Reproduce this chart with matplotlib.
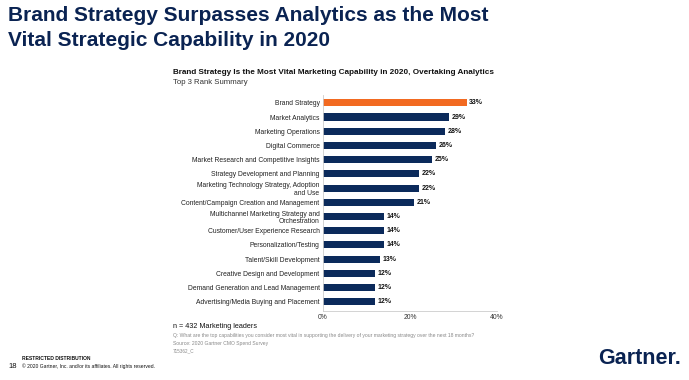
import matplotlib
matplotlib.use('Agg')
import matplotlib.pyplot as plt

# chart data
categories = [
    'Brand Strategy',
    'Market Analytics',
    'Marketing Operations',
    'Digital Commerce',
    'Market Research and Competitive Insights',
    'Strategy Development and Planning',
    'Marketing Technology Strategy, Adoption\nand Use',
    'Content/Campaign Creation and Management',
    'Multichannel Marketing Strategy and\nOrchestration',
    'Customer/User Experience Research',
    'Personalization/Testing',
    'Talent/Skill Development',
    'Creative Design and Development',
    'Demand Generation and Lead Management',
    'Advertising/Media Buying and Placement',
]
values = [33, 29, 28, 26, 25, 22, 22, 21, 14, 14, 14, 13, 12, 12, 12]
x_ticks = [0, 20, 40]
x_tick_labels = ['0%', '20%', '40%']

navy = '#0b2a5b'
orange = '#f26a21'
plt.rcParams['font.family'] = ['Liberation Sans', 'DejaVu Sans']

fig = plt.figure(figsize=(6.89, 3.80), dpi=100)
ax = fig.add_axes([323 / 689, (380 - 311) / 380, 174 / 689, (311 - 95) / 380])

colors = [orange] + [navy] * (len(values) - 1)
ypos = list(range(len(values)))
ax.barh(ypos, values, height=0.5, color=colors)
for y, v in zip(ypos, values):
    ax.text(v + 0.6, y, '%d%%' % v, va='center', ha='left', fontsize=5,
            fontweight='bold', color='#111111')

ax.set_ylim(len(values) - 0.35, -0.55)
ax.set_xlim(0, 40)
ax.set_yticks(ypos)
ax.set_yticklabels(categories, fontsize=4.9, color='#222222', linespacing=1.1)
ax.set_xticks(x_ticks)
ax.set_xticklabels(x_tick_labels, fontsize=4.9, color='#333333')
ax.tick_params(length=0, pad=2.5)
for s in ['top', 'right']:
    ax.spines[s].set_visible(False)
for s in ['left', 'bottom']:
    ax.spines[s].set_color('#cccccc')
    ax.spines[s].set_linewidth(0.6)

# slide title, two lines placed on their baselines
fig.text(8 / 689, 1 - 21 / 380, 'Brand Strategy Surpasses Analytics as the Most',
         fontsize=15, fontweight='bold', color='#0a2352', va='baseline', ha='left')
fig.text(8 / 689, 1 - 46 / 380, 'Vital Strategic Capability in 2020',
         fontsize=15, fontweight='bold', color='#0a2352', va='baseline', ha='left')

# chart title
fig.text(173 / 689, 1 - 73 / 380,
         'Brand Strategy Is the Most Vital Marketing Capability in 2020, Overtaking Analytics',
         fontsize=5.9, fontweight='bold', color='#111111', va='center', ha='left')
fig.text(173 / 689, 1 - 83 / 380, 'Top 3 Rank Summary', fontsize=5.6,
         color='#333333', va='center', ha='left')

# notes
fig.text(173 / 689, 1 - 326 / 380, 'n = 432 Marketing leaders', fontsize=5.2,
         color='#111111', va='center', ha='left')
fig.text(173 / 689, 1 - 336 / 380,
         'Q: What are the top capabilities you consider most vital in supporting the delivery of your marketing strategy over the next 18 months?',
         fontsize=3.6, color='#888888', va='center', ha='left')
fig.text(173 / 689, 1 - 344 / 380, 'Source: 2020 Gartner CMO Spend Survey',
         fontsize=3.6, color='#888888', va='center', ha='left')
fig.text(173 / 689, 1 - 351 / 380, '715362_C', fontsize=3.3, color='#888888',
         va='center', ha='left')

# footer
fig.text(22 / 689, 1 - 358 / 380, 'RESTRICTED DISTRIBUTION', fontsize=3.6,
         fontweight='bold', color='#111111', va='center', ha='left')
fig.text(8 / 689, 1 - 366 / 380, '18', fontsize=5.5, color='#111111',
         va='center', ha='left')
fig.text(22 / 689, 1 - 366 / 380,
         '\u00a9 2020 Gartner, Inc. and/or its affiliates. All rights reserved.',
         fontsize=3.6, color='#111111', va='center', ha='left')
fig.text(681 / 689, 1 - 359 / 380, 'Gartner.', fontsize=15.5, fontweight='bold',
         color='#0a2352', va='center', ha='right')

fig.savefig('out.png', dpi=100, facecolor='white')
